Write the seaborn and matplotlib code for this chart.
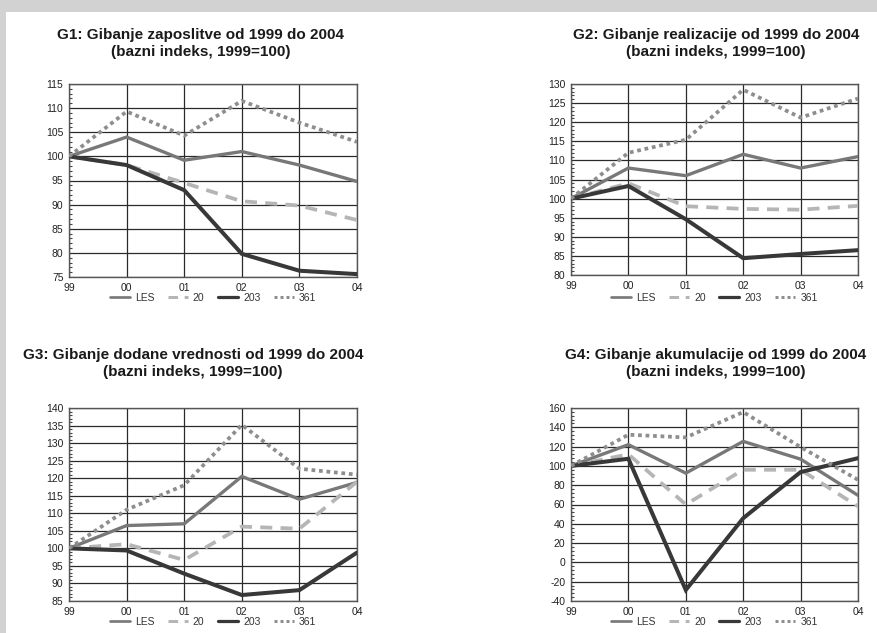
import matplotlib
matplotlib.use("Agg")
import matplotlib.pyplot as plt
import matplotlib.patches as mpatches
from matplotlib.ticker import MultipleLocator
import seaborn as sns
import pandas as pd

sns.set_theme(style="white")
plt.rcParams['font.family'] = ['Liberation Sans', 'DejaVu Sans']
plt.rcParams['axes.unicode_minus'] = False

years = ["99", "00", "01", "02", "03", "04"]
series = ["LES", "20", "203", "361"]

g1_les = [100, 104, 99.2, 101, 98.2, 94.8]
g1_20 = [100, 98.2, 94.5, 90.7, 89.8, 86.8]
g1_203 = [100, 98.2, 93, 79.8, 76.3, 75.6]
g1_361 = [100, 109.3, 104.3, 111.5, 107, 103]

g2_les = [100, 108, 106, 111.6, 108, 111]
g2_20 = [100, 104, 98, 97.3, 97.1, 98.1]
g2_203 = [100, 103.3, 94.6, 84.4, 85.5, 86.5]
g2_361 = [100, 112, 115.4, 128.5, 121.2, 126.2]

g3_les = [100, 106.5, 107, 120.5, 114, 118.8]
g3_20 = [100, 101.2, 96.7, 106.2, 105.6, 119]
g3_203 = [100, 99.4, 92.8, 86.7, 88.1, 98.8]
g3_361 = [100, 111, 118, 135.2, 122.7, 121]

g4_les = [100, 122, 92.5, 125.4, 107, 69.5]
g4_20 = [100, 112, 60, 96, 96, 58]
g4_203 = [100, 107.4, -28.6, 45.8, 93.6, 108]
g4_361 = [100, 132.3, 129.5, 155.8, 119.5, 85.6]

titles = [
    "G1: Gibanje zaposlitve od 1999 do 2004\n(bazni indeks, 1999=100)",
    "G2: Gibanje realizacije od 1999 do 2004\n(bazni indeks, 1999=100)",
    "G3: Gibanje dodane vrednosti od 1999 do 2004\n(bazni indeks, 1999=100)",
    "G4: Gibanje akumulacije od 1999 do 2004\n(bazni indeks, 1999=100)",
]
panels = [
    (g1_les, g1_20, g1_203, g1_361),
    (g2_les, g2_20, g2_203, g2_361),
    (g3_les, g3_20, g3_203, g3_361),
    (g4_les, g4_20, g4_203, g4_361),
]
ylims = [(75, 115, 5, 1), (80, 130, 5, 1), (85, 140, 5, 1), (-40, 160, 20, 4)]

W, H = 878, 633
fig = plt.figure(figsize=(W / 100, H / 100), dpi=100)
fig.patch.set_facecolor("white")
# gray frame band at top and left
fig.patches.append(mpatches.Rectangle((0, 1 - 12 / H), 1, 12 / H, transform=fig.transFigure,
                                      facecolor="#d2d2d2", edgecolor="none", zorder=0))
fig.patches.append(mpatches.Rectangle((0, 0), 6 / W, 1, transform=fig.transFigure,
                                      facecolor="#d2d2d2", edgecolor="none", zorder=0))

# axes boxes in pixels: (left, top, right, bottom)
boxes = [(69, 84, 357, 277), (571, 84, 858, 275), (69, 408, 357, 601), (571, 408, 858, 601)]
title_pos = [(201, 35), (716, 35), (193, 355), (716, 355)]
legend_y = [298, 298, 622, 622]

palette = {"LES": "#787878", "20": "#b5b5b5", "203": "#383838", "361": "#8e8e8e"}
dashes = {"LES": "", "20": (3.2, 2.2), "203": "", "361": (1.0, 1.0)}
sizes = {"LES": 2.4, "20": 2.7, "203": 2.9, "361": 2.7}

for i, (vals, box, tpos, (y0, y1, ystep, yminor)) in enumerate(zip(panels, boxes, title_pos, ylims)):
    l, t, r, b = box
    ax = fig.add_axes([l / W, 1 - b / H, (r - l) / W, (b - t) / H])
    rows = []
    for name, v in zip(series, vals):
        for xi, val in enumerate(v):
            rows.append({"x": xi, "value": val, "series": name})
    df = pd.DataFrame(rows)
    sns.lineplot(data=df, x="x", y="value", hue="series", style="series", size="series",
                 palette=palette, dashes=dashes, sizes=sizes, hue_order=series,
                 style_order=series, size_order=series, ax=ax, legend=False,
                 sort=False, zorder=3)
    for ln in ax.get_lines():
        ln.set_dash_capstyle("butt")
        ln.set_solid_joinstyle("miter")
    ax.set_xlim(0, 5)
    ax.set_ylim(y0, y1)
    ax.set_xticks(range(len(years)))
    ax.set_xticklabels(years)
    ax.yaxis.set_major_locator(MultipleLocator(ystep))
    ax.yaxis.set_minor_locator(MultipleLocator(yminor))
    ax.set_xlabel("")
    ax.set_ylabel("")
    ax.grid(True, axis="both", which="major", color="#2a2a2a", linewidth=0.9)
    ax.set_axisbelow(True)
    for s in ax.spines.values():
        s.set_color("#555555")
        s.set_linewidth(1.0)
    ax.tick_params(axis="both", which="major", labelsize=7.5, length=0, pad=4, colors="#222222")
    ax.tick_params(axis="y", which="minor", direction="in", length=2, width=0.8,
                   color="#444444", left=True)
    ax.tick_params(axis="x", which="minor", length=0)
    line1, line2 = titles[i].split("\n")
    fig.text(tpos[0] / W, 1 - tpos[1] / H, line1, ha="center", va="center",
             fontsize=11, fontweight="bold", color="#1a1a1a")
    fig.text(tpos[0] / W, 1 - (tpos[1] + 17) / H, line2, ha="center", va="center",
             fontsize=11, fontweight="bold", color="#1a1a1a")
    handles = []
    for name in series:
        h = plt.Line2D([], [], color=palette[name], linewidth=sizes[name] * 0.8,
                       dash_capstyle="butt")
        if dashes[name] == "":
            h.set_linestyle("-")
        else:
            h.set_dashes(dashes[name])
        handles.append(h)
    leg = fig.legend(handles, series, loc="center", ncol=4, frameon=False,
                     bbox_to_anchor=(((l + r) / 2) / W, 1 - legend_y[i] / H),
                     fontsize=7.5, handlelength=1.9, columnspacing=1.3, handletextpad=0.5,
                     borderpad=0.1)
    for txt in leg.get_texts():
        txt.set_color("#333333")

fig.savefig("out.png", dpi=100, facecolor="white")
